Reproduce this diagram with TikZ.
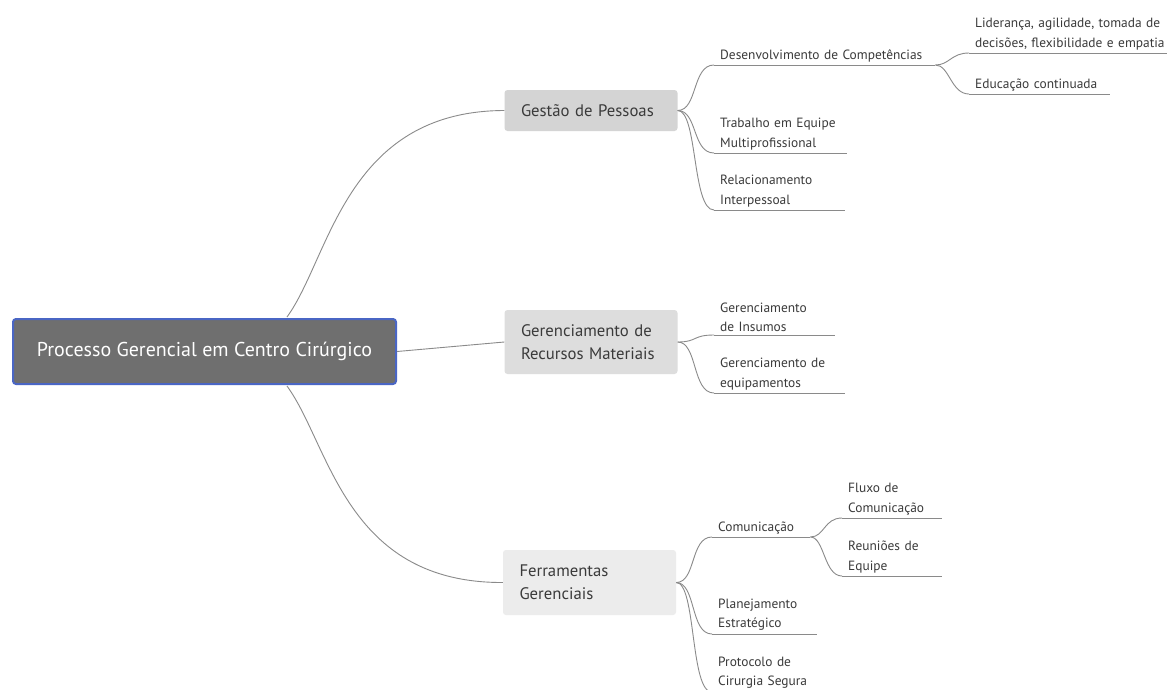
\documentclass[tikz,border=0pt]{standalone}
\usepackage{fontspec}
\setmainfont{PT Sans}
\definecolor{rootfill}{HTML}{6F6F6F}
\definecolor{rootborder}{HTML}{4A66C4}
\definecolor{gpfill}{HTML}{D4D4D4}
\definecolor{grmfill}{HTML}{DDDDDD}
\definecolor{fgfill}{HTML}{ECECEC}
\definecolor{txt}{HTML}{3A3A3A}
\definecolor{linec}{HTML}{8A8A8A}
\tikzset{
  rootbox/.style={draw=rootborder, line width=2pt, fill=rootfill, rounded corners=3pt, text=white, font=\fontsize{20}{24}\selectfont, minimum width=383pt, minimum height=65pt, inner sep=0pt},
  mainbox/.style={rounded corners=3pt, text=txt, font=\fontsize{16.7}{23}\selectfont, align=left, minimum width=173pt, inner sep=0pt},
  leaf/.style={anchor=south west, align=left, inner xsep=6pt, inner ysep=3pt, text=txt, font=\fontsize{13.4}{19.5}\selectfont},
  conn/.style={draw=linec, line width=0.9pt},
}
\begin{document}
\begin{tikzpicture}[x=1pt,y=-1pt]
\clip (0,0) rectangle (1167,689);
\fill[white] (0,0) rectangle (1167,689);
% root
\node[rootbox] (root) at (204.5,351.5) {Processo Gerencial em Centro Cirúrgico};
\coordinate (rtop) at (287,317);
\coordinate (rbot) at (287,386);
% main boxes
\node[mainbox, fill=gpfill, minimum height=41pt, text width=140pt] (gp) at (591,110.5) {Gestão de Pessoas};
\node[mainbox, fill=grmfill, minimum height=64pt, text width=140pt] (grm) at (591,342) {Gerenciamento de\\Recursos Materiais};
\node[mainbox, fill=fgfill, minimum height=65pt, text width=140pt] (fg) at (589.5,582.5) {Ferramentas\\Gerenciais};
% root connectors
\draw[conn] (rtop) .. controls (330,258) and (345,111) .. (gp.west);
\draw[conn] (root.east) -- (grm.west);
\draw[conn] (rbot) .. controls (330,445) and (345,583) .. (fg.west);
% leaves of Gestao
\node[leaf, text width=209pt] (dc) at (714,65) {Desenvolvimento de Competências};
\node[leaf, text width=121pt] (tem) at (714,153) {Trabalho em Equipe\\Multiprofissional};
\node[leaf, text width=119pt] (ri) at (714,210) {Relacionamento\\Interpessoal};
\node[leaf, text width=205pt] (lid) at (969,53) {Liderança, agilidade, tomada de\\decisões, flexibilidade e empatia};
\node[leaf, text width=129pt] (edu) at (969,94) {Educação continuada};
% leaves of Gerenciamento
\node[leaf, text width=109pt] (gi) at (714,335) {Gerenciamento\\de Insumos};
\node[leaf, text width=119pt] (ge) at (714,393) {Gerenciamento de\\equipamentos};
% leaves of Ferramentas
\node[leaf, text width=86pt] (com) at (712,537) {Comunicação};
\node[leaf, text width=88pt] (flu) at (842,518) {Fluxo de\\Comunicação};
\node[leaf, text width=88pt] (reu) at (842,576) {Reuniões de\\Equipe};
\node[leaf, text width=93pt] (pe) at (712,634) {Planejamento\\Estratégico};
\node[leaf, text width=94pt] (pcs) at (712,692) {Protocolo de\\Cirurgia Segura};
% underlines
\foreach \n in {dc,tem,ri,lid,edu,gi,ge,com,flu,reu,pe,pcs}
  \draw[conn] (\n.south west) -- (\n.south east);
% branch connectors
\foreach \n in {dc,tem,ri}
  \draw[conn] (gp.east) .. controls +(20,0) and +(-22,0) .. (\n.south west);
\foreach \n in {lid,edu}
  \draw[conn] (dc.south east) .. controls +(14,0) and +(-18,0) .. (\n.south west);
\foreach \n in {gi,ge}
  \draw[conn] (grm.east) .. controls +(20,0) and +(-22,0) .. (\n.south west);
\foreach \n in {com,pe,pcs}
  \draw[conn] (fg.east) .. controls +(20,0) and +(-22,0) .. (\n.south west);
\foreach \n in {flu,reu}
  \draw[conn] (com.south east) .. controls +(14,0) and +(-18,0) .. (\n.south west);
\end{tikzpicture}
\end{document}
